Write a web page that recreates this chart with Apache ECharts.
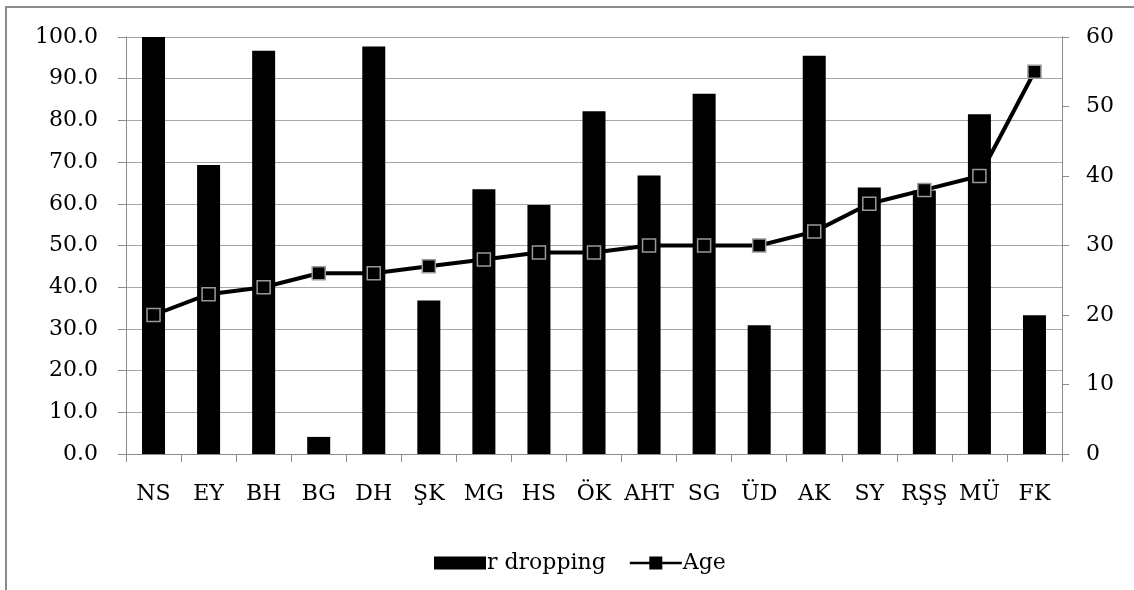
<!DOCTYPE html>
<html>
<head>
<meta charset="utf-8">
<script src="https://cdn.jsdelivr.net/npm/echarts@6/dist/echarts.min.js"></script>
<style>
  html, body { margin: 0; padding: 0; background: #fff; }
  #chart { width: 1134px; height: 590px; }
</style>
</head>
<body>
<div id="chart"></div>
<script>
// Participants (x categories)
const categories = ['NS', 'EY', 'BH', 'BG', 'DH', 'ŞK', 'MG', 'HS', 'ÖK', 'AHT', 'SG', 'ÜD', 'AK', 'SY', 'RŞŞ', 'MÜ', 'FK'];
// r dropping (%) — left axis
const dropping = [100.0, 69.3, 96.7, 4.1, 97.7, 36.8, 63.5, 59.7, 82.2, 66.8, 86.4, 30.9, 95.5, 63.9, 63.2, 81.5, 33.3];
// Age (years) — right axis
const age = [20, 23, 24, 26, 26, 27, 28, 29, 29, 30, 30, 30, 32, 36, 38, 40, 55];
// Axis ranges
const leftTicks = { min: 0, max: 100, interval: 10 };
const rightTicks = { min: 0, max: 60, interval: 10 };

const FONT = '"DejaVu Serif", "Liberation Serif", serif';
const FONT_SIZE = 22;
const GRID_GRAY = '#a6a6a6';
const AXIS_GRAY = '#8c8c8c';

// legend glyph for the line series: a line with a square marker in its middle
const LINE_MARKER_ICON = 'path://M0,5.2 L19.5,5.2 L19.5,0 L32.5,0 L32.5,5.2 L52,5.2 L52,7.8 L32.5,7.8 L32.5,13 L19.5,13 L19.5,7.8 L0,7.8 Z';

const chart = echarts.init(document.getElementById('chart'), null, { renderer: 'canvas' });

chart.setOption({
  animation: false,
  backgroundColor: '#ffffff',
  textStyle: { fontFamily: FONT },
  graphic: [{
    type: 'rect',
    shape: { x: 6, y: 7, width: 1200, height: 700 },
    style: { fill: 'none', stroke: AXIS_GRAY, lineWidth: 2 },
    silent: true
  }],
  grid: { left: 126, right: 72, top: 37, bottom: 136, containLabel: false },
  legend: {
    data: [
      { name: 'r dropping', icon: 'rect' },
      { name: 'Age', icon: LINE_MARKER_ICON, itemStyle: { color: '#000', borderWidth: 0 } }
    ],
    left: 429,
    top: 547,
    itemWidth: 52,
    itemHeight: 13,
    itemGap: 24,
    textStyle: { fontFamily: FONT, fontSize: FONT_SIZE, color: '#000', padding: [0, 0, 0, -4] }
  },
  xAxis: {
    type: 'category',
    data: categories,
    boundaryGap: true,
    axisLine: { lineStyle: { color: AXIS_GRAY, width: 1 } },
    axisTick: { show: true, interval: 0, length: 8, lineStyle: { color: AXIS_GRAY } },
    axisLabel: { interval: 0, margin: 29, fontFamily: FONT, fontSize: FONT_SIZE, color: '#000' },
    splitLine: { show: false }
  },
  yAxis: [{
    type: 'value',
    position: 'left',
    min: leftTicks.min, max: leftTicks.max, interval: leftTicks.interval,
    axisLine: { show: true, lineStyle: { color: AXIS_GRAY, width: 1 } },
    axisTick: { show: true, length: 8, lineStyle: { color: AXIS_GRAY } },
    axisLabel: { margin: 28, fontFamily: FONT, fontSize: FONT_SIZE, color: '#000', formatter: v => v.toFixed(1) },
    splitLine: { show: true, lineStyle: { color: GRID_GRAY, width: 1 } }
  }, {
    type: 'value',
    position: 'right',
    min: rightTicks.min, max: rightTicks.max, interval: rightTicks.interval,
    axisLine: { show: true, lineStyle: { color: AXIS_GRAY, width: 1 } },
    axisTick: { show: true, length: 7, lineStyle: { color: AXIS_GRAY } },
    axisLabel: { margin: 24, fontFamily: FONT, fontSize: FONT_SIZE, color: '#000' },
    splitLine: { show: false }
  }],
  series: [{
    name: 'r dropping',
    type: 'bar',
    yAxisIndex: 0,
    data: dropping,
    barWidth: 23,
    itemStyle: { color: '#000000' },
    z: 2
  }, {
    name: 'Age',
    type: 'line',
    yAxisIndex: 1,
    data: age,
    symbol: 'rect',
    symbolSize: 13,
    lineStyle: { color: '#000000', width: 4 },
    itemStyle: { color: '#000000', borderColor: '#999999', borderWidth: 1.5 },
    z: 3
  }]
});
</script>
</body>
</html>
